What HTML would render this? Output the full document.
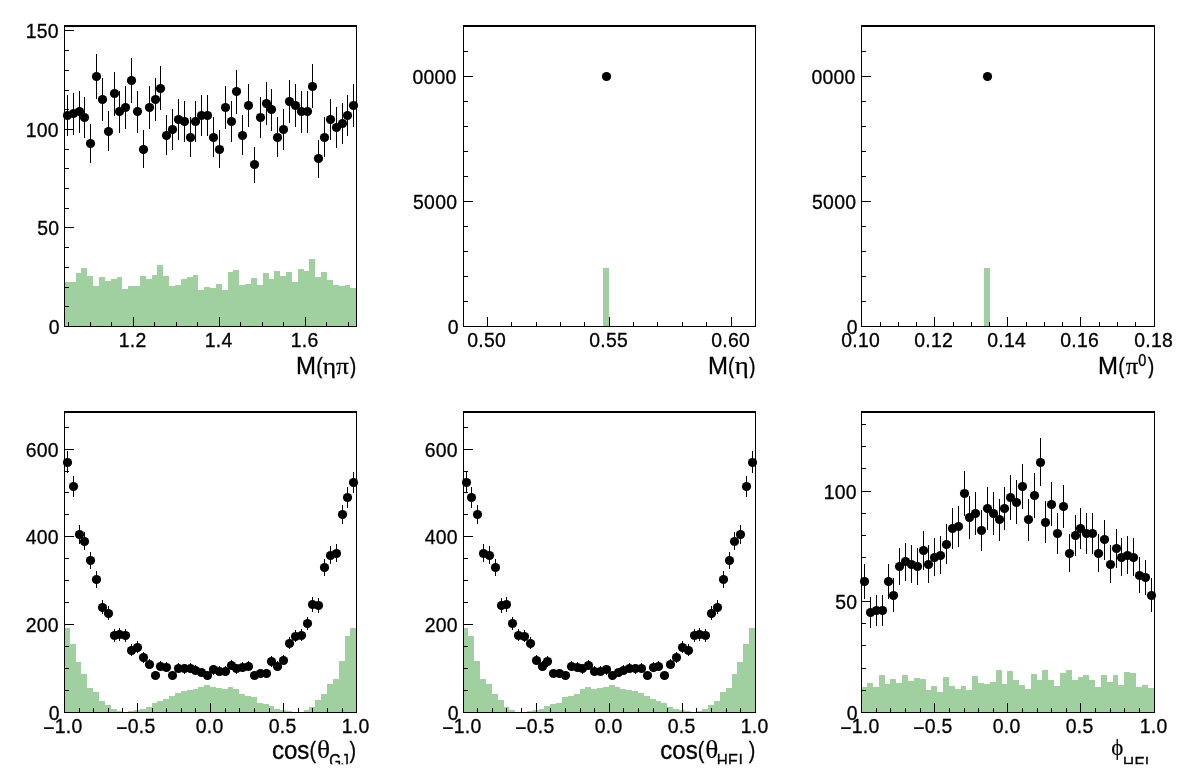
<!DOCTYPE html>
<html><head><meta charset="utf-8"><title>plots</title>
<style>html,body{margin:0;padding:0;background:#fff;overflow:hidden}svg{display:block}</style></head><body>
<svg width="1196" height="772" viewBox="0 0 1196 772">
<rect width="1196" height="772" fill="#fff"/>
<clipPath id="pc1"><rect x="12.0" y="7.7" width="374.8" height="370.6"/></clipPath>
<g clip-path="url(#pc1)">
<path fill="#a0d0a0" shape-rendering="crispEdges" d="M64,327L64,282L70,282L70,282L76,282L76,273L81,273L81,268L87,268L87,276L93,276L93,286L99,286L99,277L105,277L105,281L111,281L111,279L117,279L117,277L122,277L122,289L128,289L128,286L134,286L134,286L140,286L140,276L146,276L146,279L152,279L152,275L157,275L157,265L163,265L163,276L169,276L169,286L175,286L175,285L181,285L181,279L187,279L187,277L193,277L193,275L198,275L198,290L204,290L204,287L210,287L210,288L216,288L216,284L222,284L222,290L228,290L228,272L233,272L233,270L239,270L239,285L245,285L245,284L251,284L251,278L257,278L257,285L263,285L263,273L269,273L269,279L274,279L274,271L280,271L280,276L286,276L286,272L292,272L292,282L298,282L298,269L304,269L304,271L309,271L309,259L315,259L315,277L321,277L321,272L327,272L327,280L333,280L333,285L339,285L339,286L345,286L345,285L350,285L350,288L357,288L357,327Z"/>
<g fill="#000" shape-rendering="crispEdges">
<rect x="64" y="25" width="293" height="2"/>
<rect x="64" y="326" width="293" height="1"/>
<rect x="64" y="26" width="1" height="301"/>
<rect x="356" y="26" width="1" height="301"/>
<rect x="68" y="322" width="1" height="4"/>
<rect x="90" y="322" width="1" height="4"/>
<rect x="111" y="322" width="1" height="4"/>
<rect x="133" y="317" width="1" height="9"/>
<rect x="154" y="322" width="1" height="4"/>
<rect x="176" y="322" width="1" height="4"/>
<rect x="197" y="322" width="1" height="4"/>
<rect x="219" y="317" width="1" height="9"/>
<rect x="240" y="322" width="1" height="4"/>
<rect x="262" y="322" width="1" height="4"/>
<rect x="283" y="322" width="1" height="4"/>
<rect x="305" y="317" width="1" height="9"/>
<rect x="326" y="322" width="1" height="4"/>
<rect x="348" y="322" width="1" height="4"/>
<rect x="65" y="326" width="9" height="1"/>
<rect x="65" y="306" width="4" height="1"/>
<rect x="65" y="287" width="4" height="1"/>
<rect x="65" y="267" width="4" height="1"/>
<rect x="65" y="247" width="4" height="1"/>
<rect x="65" y="227" width="9" height="1"/>
<rect x="65" y="208" width="4" height="1"/>
<rect x="65" y="188" width="4" height="1"/>
<rect x="65" y="168" width="4" height="1"/>
<rect x="65" y="149" width="4" height="1"/>
<rect x="65" y="129" width="9" height="1"/>
<rect x="65" y="109" width="4" height="1"/>
<rect x="65" y="90" width="4" height="1"/>
<rect x="65" y="70" width="4" height="1"/>
<rect x="65" y="50" width="4" height="1"/>
<rect x="65" y="30" width="9" height="1"/>
</g>
<g fill="#000" stroke="none">
<rect shape-rendering="crispEdges" x="67" y="95" width="1" height="41"/>
<circle cx="67.5" cy="115.5" r="4.6"/>
<rect shape-rendering="crispEdges" x="73" y="93" width="1" height="42"/>
<circle cx="73.5" cy="113.5" r="4.6"/>
<rect shape-rendering="crispEdges" x="79" y="91" width="1" height="42"/>
<circle cx="79.5" cy="111.5" r="4.6"/>
<rect shape-rendering="crispEdges" x="84" y="97" width="1" height="41"/>
<circle cx="84.5" cy="117.5" r="4.6"/>
<rect shape-rendering="crispEdges" x="90" y="124" width="1" height="39"/>
<circle cx="90.5" cy="143.5" r="4.6"/>
<rect shape-rendering="crispEdges" x="96" y="54" width="1" height="45"/>
<circle cx="96.5" cy="76.5" r="4.6"/>
<rect shape-rendering="crispEdges" x="102" y="78" width="1" height="43"/>
<circle cx="102.5" cy="99.5" r="4.6"/>
<rect shape-rendering="crispEdges" x="108" y="111" width="1" height="40"/>
<circle cx="108.5" cy="131.5" r="4.6"/>
<rect shape-rendering="crispEdges" x="114" y="72" width="1" height="44"/>
<circle cx="114.5" cy="93.5" r="4.6"/>
<rect shape-rendering="crispEdges" x="119" y="91" width="1" height="42"/>
<circle cx="119.5" cy="111.5" r="4.6"/>
<rect shape-rendering="crispEdges" x="125" y="86" width="1" height="43"/>
<circle cx="125.5" cy="107.5" r="4.6"/>
<rect shape-rendering="crispEdges" x="131" y="58" width="1" height="45"/>
<circle cx="131.5" cy="80.5" r="4.6"/>
<rect shape-rendering="crispEdges" x="137" y="91" width="1" height="42"/>
<circle cx="137.5" cy="111.5" r="4.6"/>
<rect shape-rendering="crispEdges" x="143" y="130" width="1" height="38"/>
<circle cx="143.5" cy="149.5" r="4.6"/>
<rect shape-rendering="crispEdges" x="149" y="86" width="1" height="43"/>
<circle cx="149.5" cy="107.5" r="4.6"/>
<rect shape-rendering="crispEdges" x="155" y="78" width="1" height="43"/>
<circle cx="155.5" cy="99.5" r="4.6"/>
<rect shape-rendering="crispEdges" x="160" y="66" width="1" height="44"/>
<circle cx="160.5" cy="88.5" r="4.6"/>
<rect shape-rendering="crispEdges" x="166" y="115" width="1" height="40"/>
<circle cx="166.5" cy="135.5" r="4.6"/>
<rect shape-rendering="crispEdges" x="172" y="109" width="1" height="41"/>
<circle cx="172.5" cy="129.5" r="4.6"/>
<rect shape-rendering="crispEdges" x="178" y="99" width="1" height="41"/>
<circle cx="178.5" cy="119.5" r="4.6"/>
<rect shape-rendering="crispEdges" x="184" y="101" width="1" height="41"/>
<circle cx="184.5" cy="121.5" r="4.6"/>
<rect shape-rendering="crispEdges" x="190" y="117" width="1" height="40"/>
<circle cx="190.5" cy="137.5" r="4.6"/>
<rect shape-rendering="crispEdges" x="195" y="101" width="1" height="41"/>
<circle cx="195.5" cy="121.5" r="4.6"/>
<rect shape-rendering="crispEdges" x="201" y="95" width="1" height="41"/>
<circle cx="201.5" cy="115.5" r="4.6"/>
<rect shape-rendering="crispEdges" x="207" y="95" width="1" height="41"/>
<circle cx="207.5" cy="115.5" r="4.6"/>
<rect shape-rendering="crispEdges" x="213" y="117" width="1" height="40"/>
<circle cx="213.5" cy="137.5" r="4.6"/>
<rect shape-rendering="crispEdges" x="219" y="130" width="1" height="38"/>
<circle cx="219.5" cy="149.5" r="4.6"/>
<rect shape-rendering="crispEdges" x="225" y="86" width="1" height="43"/>
<circle cx="225.5" cy="107.5" r="4.6"/>
<rect shape-rendering="crispEdges" x="231" y="101" width="1" height="41"/>
<circle cx="231.5" cy="121.5" r="4.6"/>
<rect shape-rendering="crispEdges" x="236" y="70" width="1" height="44"/>
<circle cx="236.5" cy="91.5" r="4.6"/>
<rect shape-rendering="crispEdges" x="242" y="115" width="1" height="40"/>
<circle cx="242.5" cy="135.5" r="4.6"/>
<rect shape-rendering="crispEdges" x="248" y="84" width="1" height="43"/>
<circle cx="248.5" cy="105.5" r="4.6"/>
<rect shape-rendering="crispEdges" x="254" y="147" width="1" height="36"/>
<circle cx="254.5" cy="164.5" r="4.6"/>
<rect shape-rendering="crispEdges" x="260" y="97" width="1" height="41"/>
<circle cx="260.5" cy="117.5" r="4.6"/>
<rect shape-rendering="crispEdges" x="266" y="82" width="1" height="43"/>
<circle cx="266.5" cy="103.5" r="4.6"/>
<rect shape-rendering="crispEdges" x="271" y="89" width="1" height="42"/>
<circle cx="271.5" cy="109.5" r="4.6"/>
<rect shape-rendering="crispEdges" x="277" y="117" width="1" height="40"/>
<circle cx="277.5" cy="137.5" r="4.6"/>
<rect shape-rendering="crispEdges" x="283" y="109" width="1" height="41"/>
<circle cx="283.5" cy="129.5" r="4.6"/>
<rect shape-rendering="crispEdges" x="289" y="80" width="1" height="43"/>
<circle cx="289.5" cy="101.5" r="4.6"/>
<rect shape-rendering="crispEdges" x="295" y="84" width="1" height="43"/>
<circle cx="295.5" cy="105.5" r="4.6"/>
<rect shape-rendering="crispEdges" x="301" y="91" width="1" height="42"/>
<circle cx="301.5" cy="111.5" r="4.6"/>
<rect shape-rendering="crispEdges" x="307" y="91" width="1" height="42"/>
<circle cx="307.5" cy="111.5" r="4.6"/>
<rect shape-rendering="crispEdges" x="312" y="64" width="1" height="44"/>
<circle cx="312.5" cy="86.5" r="4.6"/>
<rect shape-rendering="crispEdges" x="318" y="140" width="1" height="38"/>
<circle cx="318.5" cy="158.5" r="4.6"/>
<rect shape-rendering="crispEdges" x="324" y="117" width="1" height="40"/>
<circle cx="324.5" cy="137.5" r="4.6"/>
<rect shape-rendering="crispEdges" x="330" y="99" width="1" height="41"/>
<circle cx="330.5" cy="119.5" r="4.6"/>
<rect shape-rendering="crispEdges" x="336" y="107" width="1" height="41"/>
<circle cx="336.5" cy="127.5" r="4.6"/>
<rect shape-rendering="crispEdges" x="342" y="103" width="1" height="41"/>
<circle cx="342.5" cy="123.5" r="4.6"/>
<rect shape-rendering="crispEdges" x="347" y="95" width="1" height="41"/>
<circle cx="347.5" cy="115.5" r="4.6"/>
<rect shape-rendering="crispEdges" x="353" y="84" width="1" height="43"/>
<circle cx="353.5" cy="105.5" r="4.6"/>
</g>
<g font-family="'Liberation Sans',sans-serif" font-size="19.4" fill="#000" stroke="#000" stroke-width="0.3" letter-spacing="0.25">
<text transform="translate(132.62 347.0) scale(1 1.05)" text-anchor="middle">1.2</text>
<text transform="translate(218.62 347.0) scale(1 1.05)" text-anchor="middle">1.4</text>
<text transform="translate(304.62 347.0) scale(1 1.05)" text-anchor="middle">1.6</text>
<text transform="translate(59.85 333.8) scale(1 1.05)" text-anchor="end">0</text>
<text transform="translate(59.30 234.8) scale(1 1.05)" text-anchor="end">50</text>
<text transform="translate(58.75 136.8) scale(1 1.05)" text-anchor="end">100</text>
<text transform="translate(58.75 37.8) scale(1 1.05)" text-anchor="end">150</text>
</g>
<text transform="translate(296.03 374.30) scale(1 1.03)" text-anchor="start" font-family="'Liberation Sans',sans-serif" font-size="24.0" stroke="#000" stroke-width="0.3">M</text><text transform="translate(322.80 374.30) scale(0.82 1.03)" text-anchor="end" font-family="'Liberation Sans',sans-serif" font-size="24.0" stroke="#000" stroke-width="0.3">(</text><text transform="translate(322.82 373.70) scale(1.06 1.0)" text-anchor="start" font-family="'Liberation Serif','DejaVu Serif',serif" font-size="24" stroke="#000" stroke-width="0.25">ηπ</text><text transform="translate(356.22 374.30) scale(0.82 1.03)" text-anchor="end" font-family="'Liberation Sans',sans-serif" font-size="24.0" stroke="#000" stroke-width="0.3">)</text>
</g>
<clipPath id="pc2"><rect x="411.8" y="7.7" width="373.6" height="370.6"/></clipPath>
<g clip-path="url(#pc2)">
<path fill="#a0d0a0" shape-rendering="crispEdges" d="M463,327L463,326L468,326L468,326L474,326L474,326L480,326L480,326L486,326L486,326L492,326L492,326L498,326L498,326L504,326L504,326L509,326L509,326L515,326L515,326L521,326L521,326L527,326L527,326L533,326L533,326L539,326L539,326L544,326L544,326L550,326L550,326L556,326L556,326L562,326L562,326L568,326L568,326L574,326L574,326L580,326L580,326L585,326L585,326L591,326L591,326L597,326L597,326L603,326L603,268L609,268L609,326L615,326L615,326L620,326L620,326L626,326L626,326L632,326L632,326L638,326L638,326L644,326L644,326L650,326L650,326L656,326L656,326L661,326L661,326L667,326L667,326L673,326L673,326L679,326L679,326L685,326L685,326L691,326L691,326L696,326L696,326L702,326L702,326L708,326L708,326L714,326L714,326L720,326L720,326L726,326L726,326L732,326L732,326L737,326L737,326L743,326L743,326L749,326L749,326L756,326L756,327Z"/>
<g fill="#000" shape-rendering="crispEdges">
<rect x="463" y="25" width="293" height="2"/>
<rect x="463" y="326" width="293" height="1"/>
<rect x="463" y="26" width="1" height="301"/>
<rect x="755" y="26" width="1" height="301"/>
<rect x="463" y="322" width="1" height="4"/>
<rect x="487" y="317" width="1" height="9"/>
<rect x="511" y="322" width="1" height="4"/>
<rect x="536" y="322" width="1" height="4"/>
<rect x="560" y="322" width="1" height="4"/>
<rect x="584" y="322" width="1" height="4"/>
<rect x="609" y="317" width="1" height="9"/>
<rect x="633" y="322" width="1" height="4"/>
<rect x="657" y="322" width="1" height="4"/>
<rect x="682" y="322" width="1" height="4"/>
<rect x="706" y="322" width="1" height="4"/>
<rect x="731" y="317" width="1" height="9"/>
<rect x="755" y="322" width="1" height="4"/>
<rect x="464" y="326" width="9" height="1"/>
<rect x="464" y="301" width="4" height="1"/>
<rect x="464" y="276" width="4" height="1"/>
<rect x="464" y="251" width="4" height="1"/>
<rect x="464" y="226" width="4" height="1"/>
<rect x="464" y="201" width="9" height="1"/>
<rect x="464" y="176" width="4" height="1"/>
<rect x="464" y="151" width="4" height="1"/>
<rect x="464" y="126" width="4" height="1"/>
<rect x="464" y="101" width="4" height="1"/>
<rect x="464" y="76" width="9" height="1"/>
<rect x="464" y="51" width="4" height="1"/>
<rect x="464" y="26" width="4" height="1"/>
</g>
<g fill="#000" stroke="none">
<rect shape-rendering="crispEdges" x="606" y="73" width="1" height="6"/>
<circle cx="606.5" cy="76.5" r="4.6"/>
</g>
<g font-family="'Liberation Sans',sans-serif" font-size="19.4" fill="#000" stroke="#000" stroke-width="0.3" letter-spacing="0.25">
<text transform="translate(486.62 347.0) scale(1 1.05)" text-anchor="middle">0.50</text>
<text transform="translate(608.62 347.0) scale(1 1.05)" text-anchor="middle">0.55</text>
<text transform="translate(730.62 347.0) scale(1 1.05)" text-anchor="middle">0.60</text>
<text transform="translate(458.85 333.8) scale(1 1.05)" text-anchor="end">0</text>
<text transform="translate(457.20 208.8) scale(1 1.05)" text-anchor="end">5000</text>
<text transform="translate(456.65 83.8) scale(1 1.05)" text-anchor="end">10000</text>
</g>
<text transform="translate(708.03 374.30) scale(1 1.03)" text-anchor="start" font-family="'Liberation Sans',sans-serif" font-size="24.0" stroke="#000" stroke-width="0.3">M</text><text transform="translate(734.60 374.30) scale(0.82 1.03)" text-anchor="end" font-family="'Liberation Sans',sans-serif" font-size="24.0" stroke="#000" stroke-width="0.3">(</text><text transform="translate(734.70 373.70) scale(1.1 1.0)" text-anchor="start" font-family="'Liberation Serif','DejaVu Serif',serif" font-size="24.3" stroke="#000" stroke-width="0.25">η</text><text transform="translate(755.52 374.30) scale(0.82 1.03)" text-anchor="end" font-family="'Liberation Sans',sans-serif" font-size="24.0" stroke="#000" stroke-width="0.3">)</text>
</g>
<clipPath id="pc3"><rect x="811.7" y="7.7" width="372.4" height="370.6"/></clipPath>
<g clip-path="url(#pc3)">
<path fill="#a0d0a0" shape-rendering="crispEdges" d="M861,327L861,326L867,326L867,326L873,326L873,326L879,326L879,326L885,326L885,326L890,326L890,326L896,326L896,326L902,326L902,326L908,326L908,326L914,326L914,326L920,326L920,326L926,326L926,326L931,326L931,326L937,326L937,326L943,326L943,326L949,326L949,326L955,326L955,326L961,326L961,326L966,326L966,326L972,326L972,326L978,326L978,326L984,326L984,268L990,268L990,326L996,326L996,326L1002,326L1002,326L1007,326L1007,326L1013,326L1013,326L1019,326L1019,326L1025,326L1025,326L1031,326L1031,326L1037,326L1037,326L1042,326L1042,326L1048,326L1048,326L1054,326L1054,326L1060,326L1060,326L1066,326L1066,326L1072,326L1072,326L1078,326L1078,326L1083,326L1083,326L1089,326L1089,326L1095,326L1095,326L1101,326L1101,326L1107,326L1107,326L1113,326L1113,326L1118,326L1118,326L1124,326L1124,326L1130,326L1130,326L1136,326L1136,326L1142,326L1142,326L1148,326L1148,326L1155,326L1155,327Z"/>
<g fill="#000" shape-rendering="crispEdges">
<rect x="861" y="25" width="294" height="2"/>
<rect x="861" y="326" width="294" height="1"/>
<rect x="861" y="26" width="1" height="301"/>
<rect x="1154" y="26" width="1" height="301"/>
<rect x="861" y="317" width="1" height="9"/>
<rect x="880" y="322" width="1" height="4"/>
<rect x="898" y="322" width="1" height="4"/>
<rect x="916" y="322" width="1" height="4"/>
<rect x="934" y="317" width="1" height="9"/>
<rect x="953" y="322" width="1" height="4"/>
<rect x="971" y="322" width="1" height="4"/>
<rect x="989" y="322" width="1" height="4"/>
<rect x="1007" y="317" width="1" height="9"/>
<rect x="1026" y="322" width="1" height="4"/>
<rect x="1044" y="322" width="1" height="4"/>
<rect x="1062" y="322" width="1" height="4"/>
<rect x="1080" y="317" width="1" height="9"/>
<rect x="1099" y="322" width="1" height="4"/>
<rect x="1117" y="322" width="1" height="4"/>
<rect x="1135" y="322" width="1" height="4"/>
<rect x="1154" y="317" width="1" height="9"/>
<rect x="862" y="326" width="9" height="1"/>
<rect x="862" y="301" width="4" height="1"/>
<rect x="862" y="276" width="4" height="1"/>
<rect x="862" y="251" width="4" height="1"/>
<rect x="862" y="226" width="4" height="1"/>
<rect x="862" y="201" width="9" height="1"/>
<rect x="862" y="176" width="4" height="1"/>
<rect x="862" y="151" width="4" height="1"/>
<rect x="862" y="126" width="4" height="1"/>
<rect x="862" y="101" width="4" height="1"/>
<rect x="862" y="76" width="9" height="1"/>
<rect x="862" y="51" width="4" height="1"/>
<rect x="862" y="26" width="4" height="1"/>
</g>
<g fill="#000" stroke="none">
<rect shape-rendering="crispEdges" x="987" y="73" width="1" height="6"/>
<circle cx="987.5" cy="76.5" r="4.6"/>
</g>
<g font-family="'Liberation Sans',sans-serif" font-size="19.4" fill="#000" stroke="#000" stroke-width="0.3" letter-spacing="0.25">
<text transform="translate(860.62 347.0) scale(1 1.05)" text-anchor="middle">0.10</text>
<text transform="translate(933.62 347.0) scale(1 1.05)" text-anchor="middle">0.12</text>
<text transform="translate(1006.62 347.0) scale(1 1.05)" text-anchor="middle">0.14</text>
<text transform="translate(1079.62 347.0) scale(1 1.05)" text-anchor="middle">0.16</text>
<text transform="translate(1153.62 347.0) scale(1 1.05)" text-anchor="middle">0.18</text>
<text transform="translate(857.85 333.8) scale(1 1.05)" text-anchor="end">0</text>
<text transform="translate(856.20 208.8) scale(1 1.05)" text-anchor="end">5000</text>
<text transform="translate(855.65 83.8) scale(1 1.05)" text-anchor="end">10000</text>
</g>
<text transform="translate(1098.03 374.30) scale(1 1.03)" text-anchor="start" font-family="'Liberation Sans',sans-serif" font-size="24.0" stroke="#000" stroke-width="0.3">M</text><text transform="translate(1124.70 374.30) scale(0.82 1.03)" text-anchor="end" font-family="'Liberation Sans',sans-serif" font-size="24.0" stroke="#000" stroke-width="0.3">(</text><text transform="translate(1125.68 373.70) scale(1.05 1.0)" text-anchor="start" font-family="'Liberation Serif','DejaVu Serif',serif" font-size="23.5" stroke="#000" stroke-width="0.25">π</text><text transform="translate(1138.23 366.30) scale(1 1.14)" text-anchor="start" font-family="'Liberation Sans',sans-serif" font-size="14.5" stroke="#000" stroke-width="0.3">0</text><text transform="translate(1154.22 374.30) scale(0.82 1.03)" text-anchor="end" font-family="'Liberation Sans',sans-serif" font-size="24.0" stroke="#000" stroke-width="0.3">)</text>
</g>
<clipPath id="pc4"><rect x="12.0" y="393.7" width="374.8" height="370.6"/></clipPath>
<g clip-path="url(#pc4)">
<path fill="#a0d0a0" shape-rendering="crispEdges" d="M64,713L64,628L70,628L70,644L76,644L76,662L81,662L81,674L87,674L87,688L93,688L93,692L99,692L99,701L105,701L105,705L111,705L111,709L117,709L117,711L122,711L122,712L128,712L128,711L134,711L134,710L140,710L140,709L146,709L146,707L152,707L152,703L157,703L157,701L163,701L163,699L169,699L169,696L175,696L175,693L181,693L181,691L187,691L187,690L193,690L193,689L198,689L198,687L204,687L204,685L210,685L210,687L216,687L216,688L222,688L222,689L228,689L228,687L233,687L233,689L239,689L239,694L245,694L245,696L251,696L251,697L257,697L257,703L263,703L263,704L269,704L269,706L274,706L274,709L280,709L280,710L286,710L286,711L292,711L292,712L298,712L298,712L304,712L304,710L309,710L309,707L315,707L315,700L321,700L321,694L327,694L327,684L333,684L333,679L339,679L339,661L345,661L345,636L350,636L350,628L357,628L357,713Z"/>
<g fill="#000" shape-rendering="crispEdges">
<rect x="64" y="411" width="293" height="2"/>
<rect x="64" y="712" width="293" height="1"/>
<rect x="64" y="412" width="1" height="301"/>
<rect x="356" y="412" width="1" height="301"/>
<rect x="64" y="703" width="1" height="9"/>
<rect x="79" y="708" width="1" height="4"/>
<rect x="93" y="708" width="1" height="4"/>
<rect x="108" y="708" width="1" height="4"/>
<rect x="122" y="708" width="1" height="4"/>
<rect x="137" y="703" width="1" height="9"/>
<rect x="152" y="708" width="1" height="4"/>
<rect x="166" y="708" width="1" height="4"/>
<rect x="181" y="708" width="1" height="4"/>
<rect x="195" y="708" width="1" height="4"/>
<rect x="210" y="703" width="1" height="9"/>
<rect x="225" y="708" width="1" height="4"/>
<rect x="239" y="708" width="1" height="4"/>
<rect x="254" y="708" width="1" height="4"/>
<rect x="269" y="708" width="1" height="4"/>
<rect x="283" y="703" width="1" height="9"/>
<rect x="298" y="708" width="1" height="4"/>
<rect x="312" y="708" width="1" height="4"/>
<rect x="327" y="708" width="1" height="4"/>
<rect x="342" y="708" width="1" height="4"/>
<rect x="356" y="703" width="1" height="9"/>
<rect x="65" y="712" width="9" height="1"/>
<rect x="65" y="690" width="4" height="1"/>
<rect x="65" y="668" width="4" height="1"/>
<rect x="65" y="646" width="4" height="1"/>
<rect x="65" y="624" width="9" height="1"/>
<rect x="65" y="602" width="4" height="1"/>
<rect x="65" y="580" width="4" height="1"/>
<rect x="65" y="558" width="4" height="1"/>
<rect x="65" y="536" width="9" height="1"/>
<rect x="65" y="514" width="4" height="1"/>
<rect x="65" y="492" width="4" height="1"/>
<rect x="65" y="471" width="4" height="1"/>
<rect x="65" y="449" width="9" height="1"/>
<rect x="65" y="427" width="4" height="1"/>
</g>
<g fill="#000" stroke="none">
<rect shape-rendering="crispEdges" x="67" y="451" width="1" height="22"/>
<circle cx="67.5" cy="462.5" r="4.6"/>
<rect shape-rendering="crispEdges" x="73" y="476" width="1" height="21"/>
<circle cx="73.5" cy="486.5" r="4.6"/>
<rect shape-rendering="crispEdges" x="79" y="525" width="1" height="19"/>
<circle cx="79.5" cy="534.5" r="4.6"/>
<rect shape-rendering="crispEdges" x="84" y="532" width="1" height="18"/>
<circle cx="84.5" cy="541.5" r="4.6"/>
<rect shape-rendering="crispEdges" x="90" y="552" width="1" height="17"/>
<circle cx="90.5" cy="560.5" r="4.6"/>
<rect shape-rendering="crispEdges" x="96" y="571" width="1" height="17"/>
<circle cx="96.5" cy="579.5" r="4.6"/>
<rect shape-rendering="crispEdges" x="102" y="600" width="1" height="14"/>
<circle cx="102.5" cy="607.5" r="4.6"/>
<rect shape-rendering="crispEdges" x="108" y="606" width="1" height="14"/>
<circle cx="108.5" cy="613.5" r="4.6"/>
<rect shape-rendering="crispEdges" x="114" y="629" width="1" height="13"/>
<circle cx="114.5" cy="635.5" r="4.6"/>
<rect shape-rendering="crispEdges" x="119" y="628" width="1" height="13"/>
<circle cx="119.5" cy="634.5" r="4.6"/>
<rect shape-rendering="crispEdges" x="125" y="629" width="1" height="13"/>
<circle cx="125.5" cy="635.5" r="4.6"/>
<rect shape-rendering="crispEdges" x="131" y="644" width="1" height="12"/>
<circle cx="131.5" cy="650.5" r="4.6"/>
<rect shape-rendering="crispEdges" x="137" y="641" width="1" height="12"/>
<circle cx="137.5" cy="647.5" r="4.6"/>
<rect shape-rendering="crispEdges" x="143" y="652" width="1" height="11"/>
<circle cx="143.5" cy="657.5" r="4.6"/>
<rect shape-rendering="crispEdges" x="149" y="659" width="1" height="10"/>
<circle cx="149.5" cy="664.5" r="4.6"/>
<rect shape-rendering="crispEdges" x="155" y="671" width="1" height="9"/>
<circle cx="155.5" cy="675.5" r="4.6"/>
<rect shape-rendering="crispEdges" x="160" y="661" width="1" height="10"/>
<circle cx="160.5" cy="666.5" r="4.6"/>
<rect shape-rendering="crispEdges" x="166" y="662" width="1" height="10"/>
<circle cx="166.5" cy="667.5" r="4.6"/>
<rect shape-rendering="crispEdges" x="172" y="671" width="1" height="9"/>
<circle cx="172.5" cy="675.5" r="4.6"/>
<rect shape-rendering="crispEdges" x="178" y="663" width="1" height="10"/>
<circle cx="178.5" cy="668.5" r="4.6"/>
<rect shape-rendering="crispEdges" x="184" y="664" width="1" height="10"/>
<circle cx="184.5" cy="668.5" r="4.6"/>
<rect shape-rendering="crispEdges" x="190" y="663" width="1" height="10"/>
<circle cx="190.5" cy="668.5" r="4.6"/>
<rect shape-rendering="crispEdges" x="195" y="665" width="1" height="10"/>
<circle cx="195.5" cy="670.5" r="4.6"/>
<rect shape-rendering="crispEdges" x="201" y="668" width="1" height="9"/>
<circle cx="201.5" cy="672.5" r="4.6"/>
<rect shape-rendering="crispEdges" x="207" y="671" width="1" height="9"/>
<circle cx="207.5" cy="675.5" r="4.6"/>
<rect shape-rendering="crispEdges" x="213" y="665" width="1" height="10"/>
<circle cx="213.5" cy="669.5" r="4.6"/>
<rect shape-rendering="crispEdges" x="219" y="666" width="1" height="10"/>
<circle cx="219.5" cy="671.5" r="4.6"/>
<rect shape-rendering="crispEdges" x="225" y="666" width="1" height="10"/>
<circle cx="225.5" cy="671.5" r="4.6"/>
<rect shape-rendering="crispEdges" x="231" y="660" width="1" height="10"/>
<circle cx="231.5" cy="665.5" r="4.6"/>
<rect shape-rendering="crispEdges" x="236" y="664" width="1" height="10"/>
<circle cx="236.5" cy="668.5" r="4.6"/>
<rect shape-rendering="crispEdges" x="242" y="662" width="1" height="10"/>
<circle cx="242.5" cy="667.5" r="4.6"/>
<rect shape-rendering="crispEdges" x="248" y="661" width="1" height="10"/>
<circle cx="248.5" cy="666.5" r="4.6"/>
<rect shape-rendering="crispEdges" x="254" y="671" width="1" height="9"/>
<circle cx="254.5" cy="675.5" r="4.6"/>
<rect shape-rendering="crispEdges" x="260" y="669" width="1" height="9"/>
<circle cx="260.5" cy="673.5" r="4.6"/>
<rect shape-rendering="crispEdges" x="266" y="669" width="1" height="9"/>
<circle cx="266.5" cy="673.5" r="4.6"/>
<rect shape-rendering="crispEdges" x="271" y="656" width="1" height="11"/>
<circle cx="271.5" cy="661.5" r="4.6"/>
<rect shape-rendering="crispEdges" x="277" y="661" width="1" height="10"/>
<circle cx="277.5" cy="666.5" r="4.6"/>
<rect shape-rendering="crispEdges" x="283" y="655" width="1" height="10"/>
<circle cx="283.5" cy="660.5" r="4.6"/>
<rect shape-rendering="crispEdges" x="289" y="637" width="1" height="12"/>
<circle cx="289.5" cy="643.5" r="4.6"/>
<rect shape-rendering="crispEdges" x="295" y="630" width="1" height="12"/>
<circle cx="295.5" cy="636.5" r="4.6"/>
<rect shape-rendering="crispEdges" x="301" y="629" width="1" height="12"/>
<circle cx="301.5" cy="635.5" r="4.6"/>
<rect shape-rendering="crispEdges" x="307" y="617" width="1" height="13"/>
<circle cx="307.5" cy="623.5" r="4.6"/>
<rect shape-rendering="crispEdges" x="312" y="597" width="1" height="15"/>
<circle cx="312.5" cy="604.5" r="4.6"/>
<rect shape-rendering="crispEdges" x="318" y="598" width="1" height="15"/>
<circle cx="318.5" cy="605.5" r="4.6"/>
<rect shape-rendering="crispEdges" x="324" y="559" width="1" height="17"/>
<circle cx="324.5" cy="567.5" r="4.6"/>
<rect shape-rendering="crispEdges" x="330" y="546" width="1" height="18"/>
<circle cx="330.5" cy="555.5" r="4.6"/>
<rect shape-rendering="crispEdges" x="336" y="544" width="1" height="18"/>
<circle cx="336.5" cy="553.5" r="4.6"/>
<rect shape-rendering="crispEdges" x="342" y="505" width="1" height="19"/>
<circle cx="342.5" cy="514.5" r="4.6"/>
<rect shape-rendering="crispEdges" x="347" y="487" width="1" height="21"/>
<circle cx="347.5" cy="497.5" r="4.6"/>
<rect shape-rendering="crispEdges" x="353" y="472" width="1" height="21"/>
<circle cx="353.5" cy="482.5" r="4.6"/>
</g>
<g font-family="'Liberation Sans',sans-serif" font-size="19.4" fill="#000" stroke="#000" stroke-width="0.3" letter-spacing="0.25">
<text transform="translate(62.83 733.0) scale(1 1.05)" text-anchor="middle"><tspan dy="1.7">−</tspan><tspan dy="-1.7">1.0</tspan></text>
<text transform="translate(135.82 733.0) scale(1 1.05)" text-anchor="middle"><tspan dy="1.7">−</tspan><tspan dy="-1.7">0.5</tspan></text>
<text transform="translate(209.62 733.0) scale(1 1.05)" text-anchor="middle">0.0</text>
<text transform="translate(282.62 733.0) scale(1 1.05)" text-anchor="middle">0.5</text>
<text transform="translate(355.62 733.0) scale(1 1.05)" text-anchor="middle">1.0</text>
<text transform="translate(59.85 719.8) scale(1 1.05)" text-anchor="end">0</text>
<text transform="translate(58.75 631.8) scale(1 1.05)" text-anchor="end">200</text>
<text transform="translate(58.75 543.8) scale(1 1.05)" text-anchor="end">400</text>
<text transform="translate(58.75 456.8) scale(1 1.05)" text-anchor="end">600</text>
</g>
<text transform="translate(271.94 758.75) scale(1 1.05)" text-anchor="start" font-family="'Liberation Sans',sans-serif" font-size="24.1" stroke="#000" stroke-width="0.3">cos</text><text transform="translate(316.10 757.95) scale(0.82 1.0)" text-anchor="end" font-family="'Liberation Sans',sans-serif" font-size="24.1" stroke="#000" stroke-width="0.3">(</text><text transform="translate(316.95 758.25) scale(1.24 1.115)" text-anchor="start" font-family="'Liberation Serif','DejaVu Serif',serif" font-size="22" stroke="#000" stroke-width="0.15">θ</text><text transform="translate(329.13 767.00) scale(1 1.15)" text-anchor="start" font-family="'Liberation Sans',sans-serif" font-size="15.3" stroke="#000" stroke-width="0.3" letter-spacing="0.3">GJ</text><text transform="translate(356.13 757.95) scale(0.82 1.0)" text-anchor="end" font-family="'Liberation Sans',sans-serif" font-size="24.1" stroke="#000" stroke-width="0.3">)</text>
</g>
<clipPath id="pc5"><rect x="411.8" y="393.7" width="373.6" height="370.6"/></clipPath>
<g clip-path="url(#pc5)">
<path fill="#a0d0a0" shape-rendering="crispEdges" d="M463,713L463,628L468,628L468,636L474,636L474,661L480,661L480,679L486,679L486,684L492,684L492,694L498,694L498,700L504,700L504,707L509,707L509,710L515,710L515,712L521,712L521,712L527,712L527,711L533,711L533,710L539,710L539,709L544,709L544,706L550,706L550,704L556,704L556,703L562,703L562,697L568,697L568,696L574,696L574,694L580,694L580,689L585,689L585,687L591,687L591,689L597,689L597,688L603,688L603,687L609,687L609,685L615,685L615,687L620,687L620,689L626,689L626,690L632,690L632,691L638,691L638,693L644,693L644,696L650,696L650,699L656,699L656,701L661,701L661,703L667,703L667,707L673,707L673,709L679,709L679,710L685,710L685,711L691,711L691,712L696,712L696,711L702,711L702,709L708,709L708,705L714,705L714,701L720,701L720,692L726,692L726,688L732,688L732,674L737,674L737,662L743,662L743,644L749,644L749,628L756,628L756,713Z"/>
<g fill="#000" shape-rendering="crispEdges">
<rect x="463" y="411" width="293" height="2"/>
<rect x="463" y="712" width="293" height="1"/>
<rect x="463" y="412" width="1" height="301"/>
<rect x="755" y="412" width="1" height="301"/>
<rect x="463" y="703" width="1" height="9"/>
<rect x="477" y="708" width="1" height="4"/>
<rect x="492" y="708" width="1" height="4"/>
<rect x="506" y="708" width="1" height="4"/>
<rect x="521" y="708" width="1" height="4"/>
<rect x="536" y="703" width="1" height="9"/>
<rect x="550" y="708" width="1" height="4"/>
<rect x="565" y="708" width="1" height="4"/>
<rect x="580" y="708" width="1" height="4"/>
<rect x="594" y="708" width="1" height="4"/>
<rect x="609" y="703" width="1" height="9"/>
<rect x="623" y="708" width="1" height="4"/>
<rect x="638" y="708" width="1" height="4"/>
<rect x="653" y="708" width="1" height="4"/>
<rect x="667" y="708" width="1" height="4"/>
<rect x="682" y="703" width="1" height="9"/>
<rect x="696" y="708" width="1" height="4"/>
<rect x="711" y="708" width="1" height="4"/>
<rect x="726" y="708" width="1" height="4"/>
<rect x="740" y="708" width="1" height="4"/>
<rect x="755" y="703" width="1" height="9"/>
<rect x="464" y="712" width="9" height="1"/>
<rect x="464" y="690" width="4" height="1"/>
<rect x="464" y="668" width="4" height="1"/>
<rect x="464" y="646" width="4" height="1"/>
<rect x="464" y="624" width="9" height="1"/>
<rect x="464" y="602" width="4" height="1"/>
<rect x="464" y="580" width="4" height="1"/>
<rect x="464" y="558" width="4" height="1"/>
<rect x="464" y="536" width="9" height="1"/>
<rect x="464" y="514" width="4" height="1"/>
<rect x="464" y="492" width="4" height="1"/>
<rect x="464" y="471" width="4" height="1"/>
<rect x="464" y="449" width="9" height="1"/>
<rect x="464" y="427" width="4" height="1"/>
</g>
<g fill="#000" stroke="none">
<rect shape-rendering="crispEdges" x="466" y="472" width="1" height="21"/>
<circle cx="466.5" cy="482.5" r="4.6"/>
<rect shape-rendering="crispEdges" x="471" y="487" width="1" height="21"/>
<circle cx="471.5" cy="497.5" r="4.6"/>
<rect shape-rendering="crispEdges" x="477" y="505" width="1" height="19"/>
<circle cx="477.5" cy="514.5" r="4.6"/>
<rect shape-rendering="crispEdges" x="483" y="544" width="1" height="18"/>
<circle cx="483.5" cy="553.5" r="4.6"/>
<rect shape-rendering="crispEdges" x="489" y="546" width="1" height="18"/>
<circle cx="489.5" cy="555.5" r="4.6"/>
<rect shape-rendering="crispEdges" x="495" y="559" width="1" height="17"/>
<circle cx="495.5" cy="567.5" r="4.6"/>
<rect shape-rendering="crispEdges" x="501" y="598" width="1" height="15"/>
<circle cx="501.5" cy="605.5" r="4.6"/>
<rect shape-rendering="crispEdges" x="506" y="597" width="1" height="15"/>
<circle cx="506.5" cy="604.5" r="4.6"/>
<rect shape-rendering="crispEdges" x="512" y="617" width="1" height="13"/>
<circle cx="512.5" cy="623.5" r="4.6"/>
<rect shape-rendering="crispEdges" x="518" y="629" width="1" height="12"/>
<circle cx="518.5" cy="635.5" r="4.6"/>
<rect shape-rendering="crispEdges" x="524" y="630" width="1" height="12"/>
<circle cx="524.5" cy="636.5" r="4.6"/>
<rect shape-rendering="crispEdges" x="530" y="637" width="1" height="12"/>
<circle cx="530.5" cy="643.5" r="4.6"/>
<rect shape-rendering="crispEdges" x="536" y="655" width="1" height="10"/>
<circle cx="536.5" cy="660.5" r="4.6"/>
<rect shape-rendering="crispEdges" x="542" y="661" width="1" height="10"/>
<circle cx="542.5" cy="666.5" r="4.6"/>
<rect shape-rendering="crispEdges" x="547" y="656" width="1" height="11"/>
<circle cx="547.5" cy="661.5" r="4.6"/>
<rect shape-rendering="crispEdges" x="553" y="669" width="1" height="9"/>
<circle cx="553.5" cy="673.5" r="4.6"/>
<rect shape-rendering="crispEdges" x="559" y="669" width="1" height="9"/>
<circle cx="559.5" cy="673.5" r="4.6"/>
<rect shape-rendering="crispEdges" x="565" y="671" width="1" height="9"/>
<circle cx="565.5" cy="675.5" r="4.6"/>
<rect shape-rendering="crispEdges" x="571" y="661" width="1" height="10"/>
<circle cx="571.5" cy="666.5" r="4.6"/>
<rect shape-rendering="crispEdges" x="577" y="662" width="1" height="10"/>
<circle cx="577.5" cy="667.5" r="4.6"/>
<rect shape-rendering="crispEdges" x="582" y="664" width="1" height="10"/>
<circle cx="582.5" cy="668.5" r="4.6"/>
<rect shape-rendering="crispEdges" x="588" y="660" width="1" height="10"/>
<circle cx="588.5" cy="665.5" r="4.6"/>
<rect shape-rendering="crispEdges" x="594" y="666" width="1" height="10"/>
<circle cx="594.5" cy="671.5" r="4.6"/>
<rect shape-rendering="crispEdges" x="600" y="666" width="1" height="10"/>
<circle cx="600.5" cy="671.5" r="4.6"/>
<rect shape-rendering="crispEdges" x="606" y="665" width="1" height="10"/>
<circle cx="606.5" cy="669.5" r="4.6"/>
<rect shape-rendering="crispEdges" x="612" y="671" width="1" height="9"/>
<circle cx="612.5" cy="675.5" r="4.6"/>
<rect shape-rendering="crispEdges" x="618" y="668" width="1" height="9"/>
<circle cx="618.5" cy="672.5" r="4.6"/>
<rect shape-rendering="crispEdges" x="623" y="665" width="1" height="10"/>
<circle cx="623.5" cy="670.5" r="4.6"/>
<rect shape-rendering="crispEdges" x="629" y="663" width="1" height="10"/>
<circle cx="629.5" cy="668.5" r="4.6"/>
<rect shape-rendering="crispEdges" x="635" y="664" width="1" height="10"/>
<circle cx="635.5" cy="668.5" r="4.6"/>
<rect shape-rendering="crispEdges" x="641" y="663" width="1" height="10"/>
<circle cx="641.5" cy="668.5" r="4.6"/>
<rect shape-rendering="crispEdges" x="647" y="671" width="1" height="9"/>
<circle cx="647.5" cy="675.5" r="4.6"/>
<rect shape-rendering="crispEdges" x="653" y="662" width="1" height="10"/>
<circle cx="653.5" cy="667.5" r="4.6"/>
<rect shape-rendering="crispEdges" x="658" y="661" width="1" height="10"/>
<circle cx="658.5" cy="666.5" r="4.6"/>
<rect shape-rendering="crispEdges" x="664" y="671" width="1" height="9"/>
<circle cx="664.5" cy="675.5" r="4.6"/>
<rect shape-rendering="crispEdges" x="670" y="659" width="1" height="10"/>
<circle cx="670.5" cy="664.5" r="4.6"/>
<rect shape-rendering="crispEdges" x="676" y="652" width="1" height="11"/>
<circle cx="676.5" cy="657.5" r="4.6"/>
<rect shape-rendering="crispEdges" x="682" y="641" width="1" height="12"/>
<circle cx="682.5" cy="647.5" r="4.6"/>
<rect shape-rendering="crispEdges" x="688" y="644" width="1" height="12"/>
<circle cx="688.5" cy="650.5" r="4.6"/>
<rect shape-rendering="crispEdges" x="694" y="629" width="1" height="13"/>
<circle cx="694.5" cy="635.5" r="4.6"/>
<rect shape-rendering="crispEdges" x="699" y="628" width="1" height="13"/>
<circle cx="699.5" cy="634.5" r="4.6"/>
<rect shape-rendering="crispEdges" x="705" y="629" width="1" height="13"/>
<circle cx="705.5" cy="635.5" r="4.6"/>
<rect shape-rendering="crispEdges" x="711" y="606" width="1" height="14"/>
<circle cx="711.5" cy="613.5" r="4.6"/>
<rect shape-rendering="crispEdges" x="717" y="600" width="1" height="14"/>
<circle cx="717.5" cy="607.5" r="4.6"/>
<rect shape-rendering="crispEdges" x="723" y="571" width="1" height="17"/>
<circle cx="723.5" cy="579.5" r="4.6"/>
<rect shape-rendering="crispEdges" x="729" y="552" width="1" height="17"/>
<circle cx="729.5" cy="560.5" r="4.6"/>
<rect shape-rendering="crispEdges" x="734" y="532" width="1" height="18"/>
<circle cx="734.5" cy="541.5" r="4.6"/>
<rect shape-rendering="crispEdges" x="740" y="525" width="1" height="19"/>
<circle cx="740.5" cy="534.5" r="4.6"/>
<rect shape-rendering="crispEdges" x="746" y="476" width="1" height="21"/>
<circle cx="746.5" cy="486.5" r="4.6"/>
<rect shape-rendering="crispEdges" x="752" y="451" width="1" height="22"/>
<circle cx="752.5" cy="462.5" r="4.6"/>
</g>
<g font-family="'Liberation Sans',sans-serif" font-size="19.4" fill="#000" stroke="#000" stroke-width="0.3" letter-spacing="0.25">
<text transform="translate(461.82 733.0) scale(1 1.05)" text-anchor="middle"><tspan dy="1.7">−</tspan><tspan dy="-1.7">1.0</tspan></text>
<text transform="translate(534.83 733.0) scale(1 1.05)" text-anchor="middle"><tspan dy="1.7">−</tspan><tspan dy="-1.7">0.5</tspan></text>
<text transform="translate(608.62 733.0) scale(1 1.05)" text-anchor="middle">0.0</text>
<text transform="translate(681.62 733.0) scale(1 1.05)" text-anchor="middle">0.5</text>
<text transform="translate(754.62 733.0) scale(1 1.05)" text-anchor="middle">1.0</text>
<text transform="translate(458.85 719.8) scale(1 1.05)" text-anchor="end">0</text>
<text transform="translate(457.75 631.8) scale(1 1.05)" text-anchor="end">200</text>
<text transform="translate(457.75 543.8) scale(1 1.05)" text-anchor="end">400</text>
<text transform="translate(457.75 456.8) scale(1 1.05)" text-anchor="end">600</text>
</g>
<text transform="translate(660.24 758.75) scale(1 1.05)" text-anchor="start" font-family="'Liberation Sans',sans-serif" font-size="24.1" stroke="#000" stroke-width="0.3">cos</text><text transform="translate(704.40 757.95) scale(0.82 1.0)" text-anchor="end" font-family="'Liberation Sans',sans-serif" font-size="24.1" stroke="#000" stroke-width="0.3">(</text><text transform="translate(705.25 758.25) scale(1.24 1.115)" text-anchor="start" font-family="'Liberation Serif','DejaVu Serif',serif" font-size="22" stroke="#000" stroke-width="0.15">θ</text><text transform="translate(716.65 767.00) scale(1 1.15)" text-anchor="start" font-family="'Liberation Sans',sans-serif" font-size="15.3" stroke="#000" stroke-width="0.3" letter-spacing="0.4">HEL</text><text transform="translate(755.23 757.95) scale(0.82 1.0)" text-anchor="end" font-family="'Liberation Sans',sans-serif" font-size="24.1" stroke="#000" stroke-width="0.3">)</text>
</g>
<clipPath id="pc6"><rect x="811.7" y="393.7" width="372.4" height="370.6"/></clipPath>
<g clip-path="url(#pc6)">
<path fill="#a0d0a0" shape-rendering="crispEdges" d="M861,713L861,687L867,687L867,683L873,683L873,687L879,687L879,675L885,675L885,684L890,684L890,679L896,679L896,683L902,683L902,675L908,675L908,681L914,681L914,678L920,678L920,679L926,679L926,690L931,690L931,686L937,686L937,692L943,692L943,677L949,677L949,686L955,686L955,689L961,689L961,686L966,686L966,690L972,690L972,676L978,676L978,683L984,683L984,684L990,684L990,682L996,682L996,670L1002,670L1002,684L1007,684L1007,671L1013,671L1013,680L1019,680L1019,685L1025,685L1025,689L1031,689L1031,674L1037,674L1037,680L1042,680L1042,670L1048,670L1048,680L1054,680L1054,686L1060,686L1060,673L1066,673L1066,670L1072,670L1072,680L1078,680L1078,677L1083,677L1083,675L1089,675L1089,680L1095,680L1095,687L1101,687L1101,675L1107,675L1107,682L1113,682L1113,675L1118,675L1118,685L1124,685L1124,672L1130,672L1130,673L1136,673L1136,687L1142,687L1142,685L1148,685L1148,688L1155,688L1155,713Z"/>
<g fill="#000" shape-rendering="crispEdges">
<rect x="861" y="411" width="294" height="2"/>
<rect x="861" y="712" width="294" height="1"/>
<rect x="861" y="412" width="1" height="301"/>
<rect x="1154" y="412" width="1" height="301"/>
<rect x="861" y="703" width="1" height="9"/>
<rect x="876" y="708" width="1" height="4"/>
<rect x="890" y="708" width="1" height="4"/>
<rect x="905" y="708" width="1" height="4"/>
<rect x="920" y="708" width="1" height="4"/>
<rect x="934" y="703" width="1" height="9"/>
<rect x="949" y="708" width="1" height="4"/>
<rect x="964" y="708" width="1" height="4"/>
<rect x="978" y="708" width="1" height="4"/>
<rect x="993" y="708" width="1" height="4"/>
<rect x="1007" y="703" width="1" height="9"/>
<rect x="1022" y="708" width="1" height="4"/>
<rect x="1037" y="708" width="1" height="4"/>
<rect x="1051" y="708" width="1" height="4"/>
<rect x="1066" y="708" width="1" height="4"/>
<rect x="1080" y="703" width="1" height="9"/>
<rect x="1095" y="708" width="1" height="4"/>
<rect x="1110" y="708" width="1" height="4"/>
<rect x="1124" y="708" width="1" height="4"/>
<rect x="1139" y="708" width="1" height="4"/>
<rect x="1154" y="703" width="1" height="9"/>
<rect x="862" y="712" width="9" height="1"/>
<rect x="862" y="690" width="4" height="1"/>
<rect x="862" y="668" width="4" height="1"/>
<rect x="862" y="645" width="4" height="1"/>
<rect x="862" y="623" width="4" height="1"/>
<rect x="862" y="601" width="9" height="1"/>
<rect x="862" y="579" width="4" height="1"/>
<rect x="862" y="557" width="4" height="1"/>
<rect x="862" y="535" width="4" height="1"/>
<rect x="862" y="513" width="4" height="1"/>
<rect x="862" y="491" width="9" height="1"/>
<rect x="862" y="468" width="4" height="1"/>
<rect x="862" y="446" width="4" height="1"/>
<rect x="862" y="424" width="4" height="1"/>
</g>
<g fill="#000" stroke="none">
<rect shape-rendering="crispEdges" x="864" y="564" width="1" height="35"/>
<circle cx="864.5" cy="581.5" r="4.6"/>
<rect shape-rendering="crispEdges" x="870" y="597" width="1" height="31"/>
<circle cx="870.5" cy="612.5" r="4.6"/>
<rect shape-rendering="crispEdges" x="876" y="595" width="1" height="31"/>
<circle cx="876.5" cy="610.5" r="4.6"/>
<rect shape-rendering="crispEdges" x="882" y="595" width="1" height="31"/>
<circle cx="882.5" cy="610.5" r="4.6"/>
<rect shape-rendering="crispEdges" x="888" y="564" width="1" height="35"/>
<circle cx="888.5" cy="581.5" r="4.6"/>
<rect shape-rendering="crispEdges" x="893" y="578" width="1" height="34"/>
<circle cx="893.5" cy="595.5" r="4.6"/>
<rect shape-rendering="crispEdges" x="899" y="548" width="1" height="37"/>
<circle cx="899.5" cy="566.5" r="4.6"/>
<rect shape-rendering="crispEdges" x="905" y="543" width="1" height="38"/>
<circle cx="905.5" cy="561.5" r="4.6"/>
<rect shape-rendering="crispEdges" x="911" y="545" width="1" height="38"/>
<circle cx="911.5" cy="564.5" r="4.6"/>
<rect shape-rendering="crispEdges" x="917" y="548" width="1" height="37"/>
<circle cx="917.5" cy="566.5" r="4.6"/>
<rect shape-rendering="crispEdges" x="923" y="531" width="1" height="39"/>
<circle cx="923.5" cy="550.5" r="4.6"/>
<rect shape-rendering="crispEdges" x="928" y="545" width="1" height="38"/>
<circle cx="928.5" cy="564.5" r="4.6"/>
<rect shape-rendering="crispEdges" x="934" y="538" width="1" height="38"/>
<circle cx="934.5" cy="557.5" r="4.6"/>
<rect shape-rendering="crispEdges" x="940" y="536" width="1" height="38"/>
<circle cx="940.5" cy="555.5" r="4.6"/>
<rect shape-rendering="crispEdges" x="946" y="524" width="1" height="40"/>
<circle cx="946.5" cy="544.5" r="4.6"/>
<rect shape-rendering="crispEdges" x="952" y="508" width="1" height="41"/>
<circle cx="952.5" cy="528.5" r="4.6"/>
<rect shape-rendering="crispEdges" x="958" y="506" width="1" height="41"/>
<circle cx="958.5" cy="526.5" r="4.6"/>
<rect shape-rendering="crispEdges" x="964" y="471" width="1" height="45"/>
<circle cx="964.5" cy="493.5" r="4.6"/>
<rect shape-rendering="crispEdges" x="969" y="496" width="1" height="43"/>
<circle cx="969.5" cy="517.5" r="4.6"/>
<rect shape-rendering="crispEdges" x="975" y="492" width="1" height="43"/>
<circle cx="975.5" cy="513.5" r="4.6"/>
<rect shape-rendering="crispEdges" x="981" y="510" width="1" height="41"/>
<circle cx="981.5" cy="530.5" r="4.6"/>
<rect shape-rendering="crispEdges" x="987" y="487" width="1" height="43"/>
<circle cx="987.5" cy="508.5" r="4.6"/>
<rect shape-rendering="crispEdges" x="993" y="492" width="1" height="43"/>
<circle cx="993.5" cy="513.5" r="4.6"/>
<rect shape-rendering="crispEdges" x="999" y="499" width="1" height="42"/>
<circle cx="999.5" cy="519.5" r="4.6"/>
<rect shape-rendering="crispEdges" x="1004" y="487" width="1" height="43"/>
<circle cx="1004.5" cy="508.5" r="4.6"/>
<rect shape-rendering="crispEdges" x="1010" y="475" width="1" height="45"/>
<circle cx="1010.5" cy="497.5" r="4.6"/>
<rect shape-rendering="crispEdges" x="1016" y="480" width="1" height="44"/>
<circle cx="1016.5" cy="502.5" r="4.6"/>
<rect shape-rendering="crispEdges" x="1022" y="464" width="1" height="45"/>
<circle cx="1022.5" cy="486.5" r="4.6"/>
<rect shape-rendering="crispEdges" x="1028" y="499" width="1" height="42"/>
<circle cx="1028.5" cy="519.5" r="4.6"/>
<rect shape-rendering="crispEdges" x="1034" y="473" width="1" height="45"/>
<circle cx="1034.5" cy="495.5" r="4.6"/>
<rect shape-rendering="crispEdges" x="1040" y="438" width="1" height="48"/>
<circle cx="1040.5" cy="462.5" r="4.6"/>
<rect shape-rendering="crispEdges" x="1045" y="501" width="1" height="42"/>
<circle cx="1045.5" cy="522.5" r="4.6"/>
<rect shape-rendering="crispEdges" x="1051" y="482" width="1" height="44"/>
<circle cx="1051.5" cy="504.5" r="4.6"/>
<rect shape-rendering="crispEdges" x="1057" y="513" width="1" height="41"/>
<circle cx="1057.5" cy="533.5" r="4.6"/>
<rect shape-rendering="crispEdges" x="1063" y="485" width="1" height="43"/>
<circle cx="1063.5" cy="506.5" r="4.6"/>
<rect shape-rendering="crispEdges" x="1069" y="534" width="1" height="38"/>
<circle cx="1069.5" cy="553.5" r="4.6"/>
<rect shape-rendering="crispEdges" x="1075" y="515" width="1" height="41"/>
<circle cx="1075.5" cy="535.5" r="4.6"/>
<rect shape-rendering="crispEdges" x="1080" y="508" width="1" height="41"/>
<circle cx="1080.5" cy="528.5" r="4.6"/>
<rect shape-rendering="crispEdges" x="1086" y="513" width="1" height="41"/>
<circle cx="1086.5" cy="533.5" r="4.6"/>
<rect shape-rendering="crispEdges" x="1092" y="513" width="1" height="41"/>
<circle cx="1092.5" cy="533.5" r="4.6"/>
<rect shape-rendering="crispEdges" x="1098" y="534" width="1" height="38"/>
<circle cx="1098.5" cy="553.5" r="4.6"/>
<rect shape-rendering="crispEdges" x="1104" y="520" width="1" height="40"/>
<circle cx="1104.5" cy="539.5" r="4.6"/>
<rect shape-rendering="crispEdges" x="1110" y="545" width="1" height="38"/>
<circle cx="1110.5" cy="564.5" r="4.6"/>
<rect shape-rendering="crispEdges" x="1116" y="529" width="1" height="39"/>
<circle cx="1116.5" cy="548.5" r="4.6"/>
<rect shape-rendering="crispEdges" x="1121" y="538" width="1" height="38"/>
<circle cx="1121.5" cy="557.5" r="4.6"/>
<rect shape-rendering="crispEdges" x="1127" y="536" width="1" height="38"/>
<circle cx="1127.5" cy="555.5" r="4.6"/>
<rect shape-rendering="crispEdges" x="1133" y="538" width="1" height="38"/>
<circle cx="1133.5" cy="557.5" r="4.6"/>
<rect shape-rendering="crispEdges" x="1139" y="557" width="1" height="36"/>
<circle cx="1139.5" cy="575.5" r="4.6"/>
<rect shape-rendering="crispEdges" x="1145" y="560" width="1" height="35"/>
<circle cx="1145.5" cy="577.5" r="4.6"/>
<rect shape-rendering="crispEdges" x="1151" y="578" width="1" height="34"/>
<circle cx="1151.5" cy="595.5" r="4.6"/>
</g>
<g font-family="'Liberation Sans',sans-serif" font-size="19.4" fill="#000" stroke="#000" stroke-width="0.3" letter-spacing="0.25">
<text transform="translate(859.83 733.0) scale(1 1.05)" text-anchor="middle"><tspan dy="1.7">−</tspan><tspan dy="-1.7">1.0</tspan></text>
<text transform="translate(932.83 733.0) scale(1 1.05)" text-anchor="middle"><tspan dy="1.7">−</tspan><tspan dy="-1.7">0.5</tspan></text>
<text transform="translate(1006.62 733.0) scale(1 1.05)" text-anchor="middle">0.0</text>
<text transform="translate(1079.62 733.0) scale(1 1.05)" text-anchor="middle">0.5</text>
<text transform="translate(1153.62 733.0) scale(1 1.05)" text-anchor="middle">1.0</text>
<text transform="translate(857.85 719.8) scale(1 1.05)" text-anchor="end">0</text>
<text transform="translate(857.30 608.8) scale(1 1.05)" text-anchor="end">50</text>
<text transform="translate(856.75 498.8) scale(1 1.05)" text-anchor="end">100</text>
</g>
<text transform="translate(1111.34 755.10) scale(1.0 1.0)" text-anchor="start" font-family="'Liberation Serif','DejaVu Serif',serif" font-size="23" stroke="#000" stroke-width="0.15">ϕ</text><text transform="translate(1123.05 770.00) scale(1 1.15)" text-anchor="start" font-family="'Liberation Sans',sans-serif" font-size="15.3" stroke="#000" stroke-width="0.3" letter-spacing="0.4">HEL</text>
</g>
</svg></body></html>
